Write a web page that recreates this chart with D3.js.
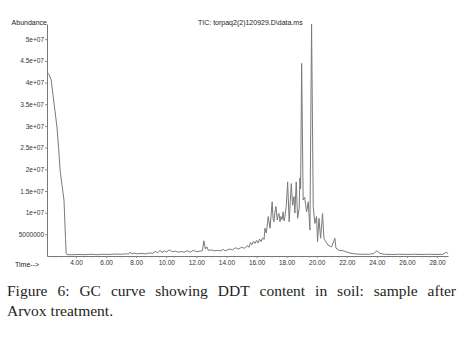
<!DOCTYPE html>
<html>
<head>
<meta charset="utf-8">
<script src="https://cdn.jsdelivr.net/npm/d3@7"></script>
<style>
  body { margin: 0; background: #fff; }
  svg { display: block; }
</style>
</head>
<body>
<div id="chart"></div>
<script>
// retention time (min) and abundance (millions of counts)
var ticTime = [2.07, 2.2, 2.35, 2.47, 2.6, 2.74, 2.85, 2.94, 3.08, 3.2, 3.3, 3.34, 3.4,
  3.8, 4.2, 4.6, 5.0, 5.4, 5.8, 6.2, 6.6, 7.0, 7.3, 7.5, 7.6, 7.7, 7.9, 8.0, 8.3, 8.6, 8.9,
  9.1, 9.3, 9.4, 9.6, 9.7, 9.9, 10.0, 10.2, 10.4, 10.6, 10.8, 11.0, 11.2, 11.4, 11.6, 11.8,
  12.0, 12.2, 12.4, 12.5, 12.6, 12.7, 12.8, 13.0, 13.2, 13.4, 13.6, 13.8, 13.9, 14.0, 14.2,
  14.4, 14.6, 14.8, 15.0, 15.2, 15.4, 15.5, 15.6, 15.7, 15.8, 15.9, 16.0, 16.1, 16.2, 16.3,
  16.4, 16.5, 16.56, 16.65, 16.78, 16.9, 17.04, 17.1, 17.16, 17.22, 17.29, 17.38, 17.44, 17.5,
  17.56, 17.62, 17.7, 17.77, 17.83, 17.89, 17.98, 18.07, 18.17, 18.24, 18.31, 18.4, 18.49,
  18.55, 18.64, 18.73, 18.84, 18.88, 18.93, 19.0,
  19.1, 19.2, 19.33, 19.44, 19.55, 19.66, 19.77, 19.88, 19.99, 20.06, 20.15, 20.26, 20.39,
  20.48, 20.61, 20.76, 20.99, 21.21, 21.28, 21.5, 21.76, 22.0, 22.2, 22.5, 23.0, 23.5, 23.8,
  24.0, 24.2, 24.5, 25.0, 25.5, 26.0, 26.5, 27.0, 27.5, 28.0, 28.4, 28.63, 28.73];

var ticAbundance = [42.4, 41.9, 40.6, 37.1, 33.5, 29.5, 24.5, 19.8, 16.0, 12.9, 4.0, 0.7, 0.3,
  0.3, 0.35, 0.3, 0.4, 0.3, 0.4, 0.35, 0.45, 0.4, 0.5, 0.45, 0.9, 0.5, 0.7, 0.5, 0.6, 0.5, 0.7,
  0.6, 1.1, 0.7, 1.3, 0.8, 1.2, 0.9, 1.4, 1.0, 1.1, 0.9, 1.0, 0.9, 1.2, 0.9, 1.3,
  1.0, 1.1, 1.2, 3.5, 1.6, 2.1, 1.3, 1.4, 1.2, 1.3, 1.2, 1.5, 1.2, 1.3, 1.6,
  1.4, 1.9, 1.6, 2.0, 1.8, 2.4, 2.0, 3.1, 2.6, 3.4, 2.9, 3.6, 3.0, 3.9, 3.3,
  4.2, 3.8, 6.4, 5.3, 9.1, 6.4, 12.5, 8.6, 7.9, 10.1, 11.4, 8.3, 9.6, 9.8,
  7.9, 9.1, 8.4, 10.2, 8.1, 9.1, 11.6, 17.1, 7.9, 12.4, 16.7, 11.7, 13.7,
  9.9, 17.1, 8.7, 11.0, 18.0, 15.5, 44.4,
  12.9, 13.5, 10.2, 12.5, 6.0, 53.5, 11.4, 7.5, 9.1, 3.3, 8.7, 4.1, 9.8,
  4.1, 3.3, 2.5, 2.1, 4.1, 1.8, 1.3, 1.2, 0.9, 0.7, 0.5, 0.4, 0.4, 0.6,
  1.2, 0.6, 0.4, 0.35, 0.4, 0.35, 0.4, 0.35, 0.4, 0.35, 0.4, 0.9, 0.5];

var xTicks = [4, 6, 8, 10, 12, 14, 16, 18, 20, 22, 24, 26, 28];
var yTicks = [5, 10, 15, 20, 25, 30, 35, 40, 45, 50];
var yTickLabels = ["5000000", "1e+07", "1.5e+07", "2e+07", "2.5e+07", "3e+07",
  "3.5e+07", "4e+07", "4.5e+07", "5e+07"];

var chartTitle = "TIC: torpaq2(2)120929.D\\data.ms";
var captionLines = ["Figure 6: GC curve showing DDT content in soil: sample after",
  "Arvox treatment."];

var width = 461, height = 343;

var svg = d3.select("#chart")
    .append("svg")
    .attr("width", width)
    .attr("height", height);

var x = d3.scaleLinear().domain([2.07, 28.73]).range([47, 448]);
var y = d3.scaleLinear().domain([0, 53.5]).range([256, 24]);

var axisFont = "'Liberation Sans', Arial, sans-serif";

// x axis with small minor ticks in between
var xAxis = svg.append("g")
    .attr("transform", "translate(0," + y(0) + ")")
    .call(d3.axisBottom(x)
      .tickValues(xTicks)
      .tickFormat(d3.format(".2f"))
      .tickSize(2)
      .tickSizeOuter(0)
      .tickPadding(2));

var minor = d3.range(2.5, 28.6, 0.5).filter(function(d){ return d % 2 !== 0; });
svg.append("g")
    .selectAll("line")
    .data(minor)
    .enter()
    .append("line")
      .attr("x1", function(d){ return x(d) + 0.5; })
      .attr("x2", function(d){ return x(d) + 0.5; })
      .attr("y1", y(0))
      .attr("y2", y(0) + 1.5)
      .attr("stroke", "#888")
      .attr("stroke-width", 0.8);

var yAxis = svg.append("g")
    .attr("transform", "translate(" + x(2.07) + ",0)")
    .call(d3.axisLeft(y)
      .tickValues(yTicks)
      .tickFormat(function(d, i){ return yTickLabels[i]; })
      .tickSize(2)
      .tickSizeOuter(0)
      .tickPadding(1));

[xAxis, yAxis].forEach(function(g){
  g.select(".domain").attr("stroke", "#777");
  g.selectAll(".tick line").attr("stroke", "#888");
  g.selectAll(".tick text")
    .attr("fill", "#333")
    .style("font-family", axisFont)
    .style("font-size", "6.5px");
});

svg.append("text")
    .attr("x", 47)
    .attr("y", 25)
    .attr("text-anchor", "end")
    .attr("fill", "#222")
    .style("font-family", axisFont)
    .style("font-size", "7px")
    .text("Abundance");

svg.append("text")
    .attr("x", 15)
    .attr("y", 267)
    .attr("fill", "#222")
    .style("font-family", axisFont)
    .style("font-size", "7px")
    .text("Time-->");

svg.append("text")
    .attr("x", 198)
    .attr("y", 24.5)
    .attr("fill", "#222")
    .style("font-family", axisFont)
    .style("font-size", "7px")
    .text(chartTitle);

// the chromatogram trace
var line = d3.line()
    .x(function(d){ return x(d[0]); })
    .y(function(d){ return y(d[1]); });

svg.append("path")
    .datum(d3.zip(ticTime, ticAbundance))
    .attr("d", line)
    .attr("fill", "none")
    .attr("stroke", "#7a7a7a")
    .attr("stroke-width", 1);

// caption, first line justified between the margins
var capLeft = 7, capRight = 456;
var capFont = "'Liberation Serif', 'Times New Roman', serif";

captionLines.forEach(function(txt, li){
  var words = txt.split(" ");
  var baseY = 295.5 + li * 20;
  var g = svg.append("g");
  var nodes = words.map(function(w){
    return g.append("text")
      .attr("y", baseY)
      .attr("fill", "#231f20")
      .style("font-family", capFont)
      .style("font-size", "15.5px")
      .text(w);
  });
  var widths = nodes.map(function(n){ return n.node().getComputedTextLength(); });
  var gap = 4;
  if (li < captionLines.length - 1) {
    gap = (capRight - capLeft - d3.sum(widths)) / (words.length - 1);
  }
  var cx = capLeft;
  nodes.forEach(function(n, i){
    n.attr("x", cx);
    cx += widths[i] + gap;
  });
});
</script>
</body>
</html>
